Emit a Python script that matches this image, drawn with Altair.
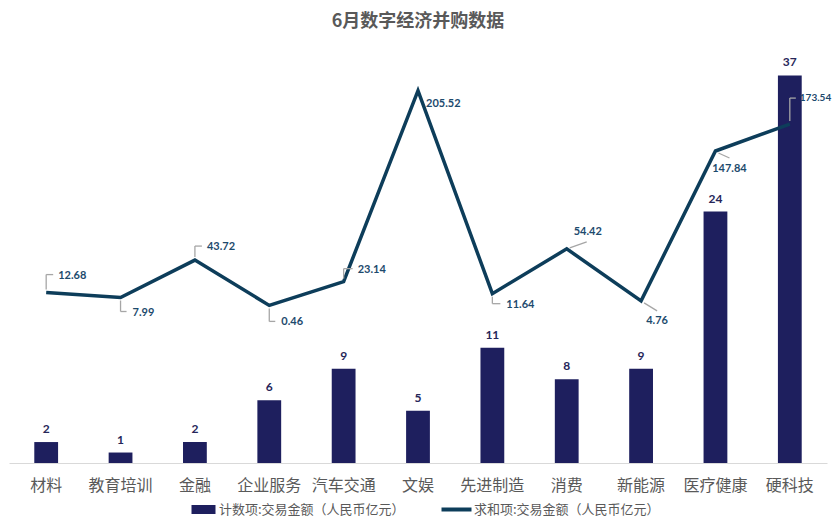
import altair as alt
import pandas as pd

categories = ["材料", "教育培训", "金融", "企业服务", "汽车交通", "文娱", "先进制造", "消费", "新能源", "医疗健康", "硬科技"]
counts = [2, 1, 2, 6, 9, 5, 11, 8, 9, 24, 37]
amounts = [12.68, 7.99, 43.72, 0.46, 23.14, 205.52, 11.64, 54.42, 4.76, 147.84, 173.54]

bar_name = "计数项:交易金额（人民币亿元）"
line_name = "求和项:交易金额（人民币亿元）"

# label / leader styling (pixel offsets relative to each point): segments, (dx, dy, align, size)
label_style = {
    "材料": ([(0, -3, 0, -18), (0, -18, 7, -18)], (12, -17, "left", 11)),
    "教育培训": ([(0, 3, 0, 14), (0, 14, 6, 14)], (12, 15, "left", 11)),
    "金融": ([(0, -3, 0, -14), (0, -14, 7, -14)], (12, -13, "left", 11)),
    "企业服务": ([(0, 3, 0, 16), (0, 16, 6, 16)], (12, 17, "left", 11)),
    "汽车交通": ([(0, -3, 0, -13), (0, -13, 9, -13)], (14, -12, "left", 11)),
    "文娱": ([], (8, 13, "left", 11)),
    "先进制造": ([(0, 3, 0, 10), (0, 10, 8, 10)], (14, 11, "left", 11)),
    "消费": ([(3, -1, 20, -7)], (21, -17, "center", 11)),
    "新能源": ([(3, 2, 16, 10)], (16, 20, "center", 11)),
    "医疗健康": ([(3, 2, 14, 7)], (14, 18, "center", 11)),
    "硬科技": ([(0, -3, 0, -26), (0, -26, 6, -26)], (10, -26, "left", 10)),
}

df = pd.DataFrame({"cat": categories, "count": counts, "amount": amounts,
                   "s1": bar_name, "s2": line_name})

BAR = "#1E1F5E"
LINE = "#0D3D5A"
LBL = "#1D4A6D"
CJK = "Noto Sans CJK SC"

x_enc = alt.X("cat:N", sort=categories, title=None,
              scale=alt.Scale(paddingInner=0.68, paddingOuter=0.34),
              axis=alt.Axis(labelAngle=0, ticks=False, domainColor="#D9D9D9", domainWidth=1,
                            labelFont=CJK, labelFontSize=16, labelColor="#595959",
                            labelPadding=14, grid=False))

yl = alt.Y("count:Q", scale=alt.Scale(domain=[0, 40]), axis=None)
yr_scale = alt.Scale(domain=[-150, 250])

base = alt.Chart(df)

bars = base.mark_bar(color=BAR).encode(
    x=x_enc, y=yl,
    color=alt.Color("s1:N", scale=alt.Scale(range=[BAR]), title=None,
                    legend=alt.Legend(orient="none", legendX=188, legendY=459,
                                      symbolType="M-2.4,-0.9H2.4V0.9H-2.4Z",
                                      symbolSize=100, symbolStrokeWidth=0, labelOffset=9,
                                      labelFont=CJK, labelFontSize=13, labelLimit=0,
                                      labelColor="#595959")))
bar_text = base.mark_text(font="Lato", fontWeight="bold", fontSize=12, color="#262659",
                          baseline="bottom", dy=-6).encode(x=x_enc, y=yl, text="count:Q")
left = alt.layer(bars, bar_text)

line = base.mark_line(strokeWidth=3.5, strokeJoin="miter").encode(
    x=x_enc, y=alt.Y("amount:Q", scale=yr_scale, axis=None),
    stroke=alt.Stroke("s2:N", scale=alt.Scale(range=[LINE]), title=None,
                      legend=alt.Legend(orient="none", legendX=441, legendY=459,
                                        symbolType="M-3,-0.4H3V0.4H-3Z",
                                        symbolSize=100, symbolStrokeWidth=0, symbolFillColor=LINE,
                                        labelOffset=11,
                                        labelFont=CJK, labelFontSize=13, labelLimit=0,
                                        labelColor="#595959")))

layers = [line]
for cat, (segs, (ldx, ldy, align, fsize)) in label_style.items():
    sub = base.transform_filter(alt.datum.cat == cat)
    for (x1, y1, x2, y2) in segs:
        layers.append(sub.mark_rule(color="#A6A6A6", strokeWidth=1.3,
                                    xOffset=x1, yOffset=y1, x2Offset=x2, y2Offset=y2).encode(
            x=alt.X("cat:N", sort=categories, bandPosition=0.5),
            x2=alt.X2("cat:N", bandPosition=0.5),
            y=alt.Y("amount:Q", scale=yr_scale, axis=None),
            y2="amount:Q"))
    layers.append(sub.mark_text(font="Lato", fontWeight="bold", fontSize=fsize, color=LBL,
                                align=align, baseline="middle", dx=ldx, dy=ldy).encode(
        x=alt.X("cat:N", sort=categories),
        y=alt.Y("amount:Q", scale=yr_scale, axis=None),
        text=alt.Text("amount:Q", format=".2f")))
right = alt.layer(*layers)

chart = alt.layer(left, right).resolve_scale(y="independent", color="independent").properties(
    width=818, height=419,
    autosize=alt.AutoSizeParams(type="none"),
    padding={"left": 1, "top": 36, "right": 5, "bottom": 54},
    title=alt.Title("6月数字经济并购数据", font=CJK, fontSize=18, fontWeight="bold",
                    color="#595959", anchor="middle", offset=13),
).configure_view(stroke=None)

chart.save("out.html", embed_options={"renderer": "svg", "actions": False})
